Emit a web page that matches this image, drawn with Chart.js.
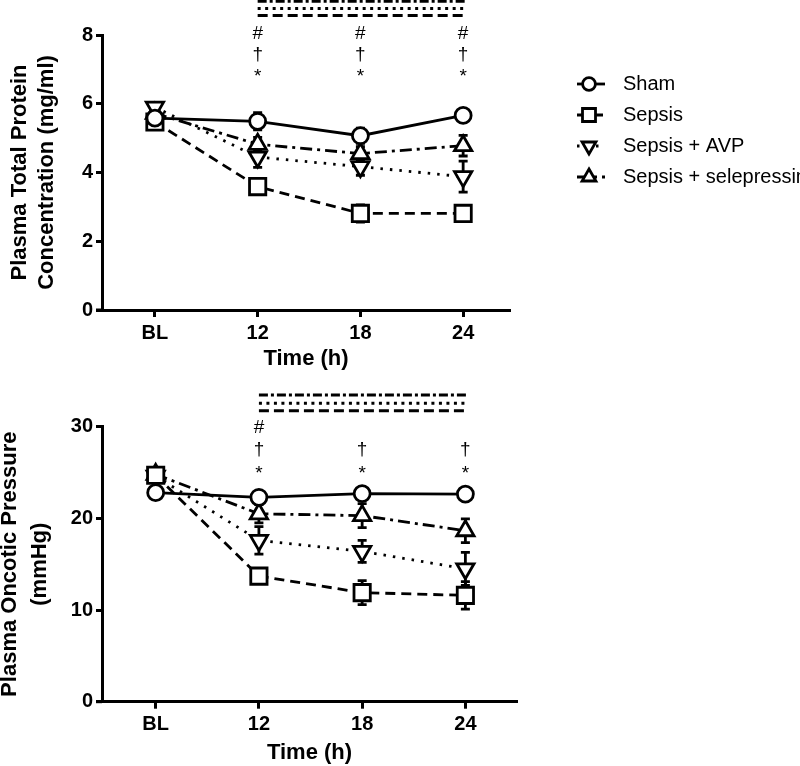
<!DOCTYPE html>
<html>
<head>
<title>Plasma protein and oncotic pressure</title>
<script src="https://cdn.jsdelivr.net/npm/chart.js"></script>
<style>
  body { margin: 0; background: #fff; }
  .wrap { position: relative; width: 800px; height: 766px; }
  canvas { position: absolute; left: 0; }
  #proteinChart { top: 0; }
  #pressureChart { top: 383px; }
</style>
</head>
<body>
<div class="wrap">
  <canvas id="proteinChart" width="800" height="383"></canvas>
  <canvas id="pressureChart" width="800" height="383"></canvas>
</div>
<script>
const timeLabels = ['BL', '12', '18', '24'];
const groupNames = ['Sham', 'Sepsis', 'Sepsis + AVP', 'Sepsis + selepressin'];

// plasma total protein (mg/ml), mean and SEM
const proteinSham = [5.58, 5.49, 5.07, 5.66];
const proteinSepsis = [5.47, 3.59, 2.81, 2.81];
const proteinAVP = [5.9, 4.45, 4.17, 3.88];
const proteinSelepressin = [5.72, 4.82, 4.55, 4.78];
const proteinShamErr = [0.08, 0.25, 0.22, 0.08];
const proteinSepsisErr = [0.1, 0.1, 0.25, 0.2];
const proteinAVPErr = [0.1, 0.3, 0.25, 0.45];
const proteinSelepressinErr = [0.1, 0.2, 0.2, 0.3];

// plasma oncotic pressure (mmHg), mean and SEM
const pressureSham = [22.8, 22.3, 22.7, 22.65];
const pressureSepsis = [24.7, 13.7, 11.9, 11.6];
const pressureAVP = [24.6, 17.6, 16.4, 14.5];
const pressureSelepressin = [24.8, 20.5, 20.3, 18.65];
const pressureShamErr = [0.3, 0.4, 0.3, 0.3];
const pressureSepsisErr = [0.4, 0.7, 1.3, 1.5];
const pressureAVPErr = [0.4, 1.5, 1.2, 1.8];
const pressureSelepressinErr = [0.4, 1.0, 1.3, 1.3];

// significance symbols per time point, and the bars spanning 12-24 h
const proteinMarks = [[], ['#', '†', '*'], ['#', '†', '*'], ['#', '†', '*']];
const pressureMarks = [[], ['#', '†', '*'], ['†', '*'], ['†', '*']];
const proteinBarLevels = [8.98, 8.77, 8.57];
const pressureBarLevels = [33.45, 32.55, 31.75];

const FONT = "'Liberation Sans', Arial, sans-serif";
const lineDashes = [[], [10, 6], [2.5, 7], [12, 5, 3, 5]];
const barDashes = [[9, 3, 3, 3], [3, 4.5], [10, 5]];
const pointStyles = ['circle', 'rect', 'triangle', 'triangle'];
const pointRotations = [0, 0, 180, 0];
const pointRadii = [8, 11.5, 10, 10];

const errorBars = {
  id: 'errorBars',
  beforeDatasetsDraw(chart) {
    const { ctx, scales: { x, y } } = chart;
    ctx.save();
    ctx.strokeStyle = '#000';
    ctx.lineWidth = 2.8;
    ctx.setLineDash([]);
    chart.data.datasets.forEach(ds => {
      ds.data.forEach((p, i) => {
        const e = ds.errors[i];
        const px = x.getPixelForValue(p.x);
        const top = y.getPixelForValue(p.y + e);
        const bot = y.getPixelForValue(p.y - e);
        ctx.beginPath();
        ctx.moveTo(px, top); ctx.lineTo(px, bot);
        ctx.moveTo(px - 4.5, top); ctx.lineTo(px + 4.5, top);
        ctx.moveTo(px - 4.5, bot); ctx.lineTo(px + 4.5, bot);
        ctx.stroke();
      });
    });
    ctx.restore();
  }
};

const sigMarks = {
  id: 'sigMarks',
  afterDraw(chart, args, opts) {
    const { ctx, chartArea, scales: { x, y } } = chart;
    ctx.save();
    ctx.fillStyle = '#000';
    ctx.font = '19px ' + FONT;
    ctx.textAlign = 'center';
    ctx.textBaseline = 'alphabetic';
    opts.marks.forEach((list, i) => list.forEach(m => {
      const row = '#†*'.indexOf(m);
      ctx.fillText(m, x.getPixelForValue(i), chartArea.top + opts.rows[row]);
    }));

    const x0 = x.getPixelForValue(1);
    const x1 = x.getPixelForValue(3) + 3;
    ctx.strokeStyle = '#000';
    ctx.lineWidth = 3;
    opts.levels.forEach((lv, k) => {
      const py = y.getPixelForValue(lv);
      ctx.setLineDash(barDashes[k]);
      ctx.beginPath(); ctx.moveTo(x0, py); ctx.lineTo(x1, py); ctx.stroke();
    });

    // x axis pokes out a little left of the y axis
    ctx.setLineDash([]);
    ctx.beginPath();
    ctx.moveTo(chartArea.left - 6, chartArea.bottom);
    ctx.lineTo(chartArea.left, chartArea.bottom);
    ctx.stroke();
    ctx.restore();
  }
};

const sideLegend = {
  id: 'sideLegend',
  afterDraw(chart, args, opts) {
    if (!opts.show) return;
    const ctx = chart.ctx;
    ctx.save();
    chart.data.datasets.forEach((ds, k) => {
      const y = opts.top + k * opts.gap;
      ctx.strokeStyle = '#000';
      ctx.lineWidth = 2.8;
      ctx.setLineDash(ds.borderDash);
      ctx.beginPath(); ctx.moveTo(opts.x - 12, y); ctx.lineTo(opts.x + 16, y); ctx.stroke();
      ctx.setLineDash([]);
      ctx.fillStyle = '#fff';
      Chart.helpers.drawPoint(ctx, {
        pointStyle: ds.pointStyle, rotation: ds.pointRotation,
        radius: ds.pointRadius * 0.8, borderWidth: 2.8
      }, opts.x, y);
      ctx.fillStyle = '#000';
      ctx.font = '20px ' + FONT;
      ctx.textAlign = 'left';
      ctx.textBaseline = 'middle';
      ctx.fillText(ds.label, opts.textX, y);
    });
    ctx.restore();
  }
};

function makeChart(id, cfg) {
  const datasets = cfg.series.map((vals, k) => ({
    label: groupNames[k],
    data: vals.map((v, i) => ({ x: i, y: v })),
    errors: cfg.errors[k],
    borderColor: '#000',
    borderWidth: 2.8,
    borderDash: lineDashes[k],
    pointStyle: pointStyles[k],
    pointRotation: pointRotations[k],
    pointRadius: pointRadii[k],
    pointBackgroundColor: '#fff',
    pointBorderColor: '#000',
    pointBorderWidth: 2.8,
    fill: false,
    tension: 0,
    clip: false
  }));

  const tickFont = { family: FONT, size: 20, weight: 'bold' };
  return new Chart(document.getElementById(id), {
    type: 'line',
    data: { datasets },
    plugins: [errorBars, sigMarks, sideLegend],
    options: {
      responsive: false,
      animation: false,
      devicePixelRatio: 1,
      layout: { padding: { top: cfg.padTop, right: 800 - cfg.right, left: 0, bottom: 0 } },
      plugins: {
        legend: { display: false },
        tooltip: { enabled: false },
        sigMarks: { marks: cfg.marks, rows: cfg.rows, levels: cfg.levels },
        sideLegend: { show: cfg.legend, x: 589, textX: 623, top: 84, gap: 31 }
      },
      scales: {
        x: {
          type: 'linear',
          min: cfg.xMin,
          max: cfg.xMax,
          afterBuildTicks: s => { s.ticks = timeLabels.map((t, i) => ({ value: i })); },
          ticks: { callback: v => timeLabels[v], color: '#000', font: tickFont, padding: 4, maxRotation: 0, autoSkip: false },
          grid: { drawOnChartArea: false, drawTicks: true, tickLength: 7, tickWidth: 3, tickColor: '#000' },
          border: { display: true, color: '#000', width: 3 },
          title: {
            display: true, text: 'Time (h)', color: '#000',
            font: { family: FONT, size: 22, weight: 'bold' },
            padding: { top: 0, bottom: cfg.xTitlePad }
          },
          afterFit: s => { s.height = cfg.xHeight; }
        },
        y: {
          min: 0,
          max: cfg.yMax,
          ticks: { stepSize: cfg.yStep, color: '#000', font: tickFont, padding: 3 },
          grid: { drawOnChartArea: false, drawTicks: true, tickLength: 6, tickWidth: 3, tickColor: '#000' },
          border: { display: true, color: '#000', width: 3 },
          title: {
            display: true, text: cfg.yTitle, color: '#000',
            font: { family: FONT, size: 22, weight: 'bold', lineHeight: cfg.yLineHeight },
            padding: { top: cfg.yTitlePad, bottom: 0 }
          },
          afterFit: s => { s.width = 102; }
        }
      }
    }
  });
}

makeChart('proteinChart', {
  series: [proteinSham, proteinSepsis, proteinAVP, proteinSelepressin],
  errors: [proteinShamErr, proteinSepsisErr, proteinAVPErr, proteinSelepressinErr],
  marks: proteinMarks, levels: proteinBarLevels, rows: [4, 24.5, 47],
  padTop: 35, right: 510, xMin: -0.515, xMax: 3.456,
  yMax: 8, yStep: 2, xHeight: 73, xTitlePad: 11,
  yTitle: ['Plasma Total Protein', 'Concentration (mg/ml)'], yLineHeight: 1.2, yTitlePad: 7,
  legend: true
});

makeChart('pressureChart', {
  series: [pressureSham, pressureSepsis, pressureAVP, pressureSelepressin],
  errors: [pressureShamErr, pressureSepsisErr, pressureAVPErr, pressureSelepressinErr],
  marks: pressureMarks, levels: pressureBarLevels, rows: [6, 28, 52],
  padTop: 43.7, right: 517, xMin: -0.52, xMax: 3.5,
  yMax: 30, yStep: 10, xHeight: 64.3, xTitlePad: 0,
  yTitle: ['Plasma Oncotic Pressure', '(mmHg)'], yLineHeight: 1.36, yTitlePad: -5,
  legend: false
});
</script>
</body>
</html>
